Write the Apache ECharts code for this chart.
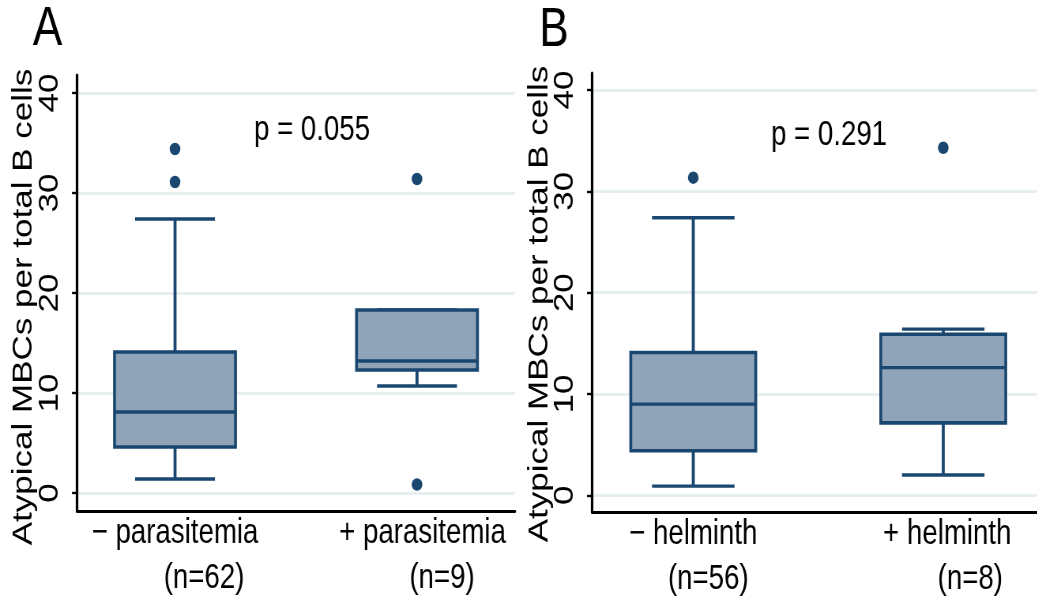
<!DOCTYPE html>
<html>
<head>
<meta charset="utf-8">
<script src="https://cdn.jsdelivr.net/npm/echarts@6/dist/echarts.min.js"></script>
<style>
html,body{margin:0;padding:0;background:#fff;overflow:hidden;}
#wrap{width:1037px;height:602px;overflow:hidden;position:relative;}
#chart{width:1313px;height:602px;transform:scaleX(0.79);transform-origin:0 0;position:absolute;left:0;top:0;}
</style>
</head>
<body>
<div id="wrap"><div id="chart"></div></div>
<script>
// ---- data ----
const yTicks = [0, 10, 20, 30, 40];
const yTitle = 'Atypical MBCs per total B cells';

const A_letter = 'A';
const A_categories = ['− parasitemia', '+ parasitemia'];
const A_counts = ['(n=62)', '(n=9)'];
// [lower whisker, Q1, median, Q3, upper whisker]
const A_boxes = [[1.4, 4.6, 8.1, 14.1, 27.4], [10.7, 12.3, 13.2, 18.3, 18.3]];
const A_outliers = [[34.4, 31.1], [31.4, 0.85]];
const A_p = 'p = 0.055';

const B_letter = 'B';
const B_categories = ['− helminth', '+ helminth'];
const B_counts = ['(n=56)', '(n=8)'];
const B_boxes = [[0.9, 4.4, 9.0, 14.1, 27.4], [2.0, 7.15, 12.6, 15.9, 16.4]];
const B_outliers = [[31.35], [34.3]];
const B_p = 'p = 0.291';

// ---- style / layout ----
const S = 0.79; // horizontal squish of the picture
const X = v => v / S;
const FONT = "'Liberation Sans', Arial, sans-serif";
const NAVY = '#1a476f';
const FILL = '#8fa4b8';
const GRID = '#e6eef0';

function boxData(boxes) { return boxes.map((b, i) => [i + 1].concat(b)); }
function outlierData(outs) {
  const r = [];
  outs.forEach((vals, i) => vals.forEach(v => r.push([i + 1, v])));
  return r;
}

function renderBox(params, api) {
  const x = api.value(0);
  const lo = api.coord([x, api.value(1)]);
  const q1 = api.coord([x, api.value(2)]);
  const md = api.coord([x, api.value(3)]);
  const q3 = api.coord([x, api.value(4)]);
  const hi = api.coord([x, api.value(5)]);
  const bw = api.size([0.5, 0])[0];
  const cw = api.size([0.33, 0])[0];
  const ls = { stroke: NAVY, lineWidth: 3.4, fill: null };
  const vs = { stroke: NAVY, lineWidth: 3.8, fill: null };
  return {
    type: 'group',
    children: [
      { type: 'line', shape: { x1: lo[0], y1: lo[1], x2: q1[0], y2: q1[1] }, style: vs },
      { type: 'line', shape: { x1: hi[0], y1: hi[1], x2: q3[0], y2: q3[1] }, style: vs },
      { type: 'line', shape: { x1: lo[0] - cw / 2, y1: lo[1], x2: lo[0] + cw / 2, y2: lo[1] }, style: ls },
      { type: 'line', shape: { x1: hi[0] - cw / 2, y1: hi[1], x2: hi[0] + cw / 2, y2: hi[1] }, style: ls },
      { type: 'rect', shape: { x: q3[0] - bw / 2, y: q3[1], width: bw, height: q1[1] - q3[1] },
        style: { fill: FILL, stroke: NAVY, lineWidth: 3.6 } },
      { type: 'line', shape: { x1: md[0] - bw / 2, y1: md[1], x2: md[0] + bw / 2, y2: md[1] }, style: ls }
    ]
  };
}

function xAxisFor(idx, cats, counts, shifts, min, max) {
  const rich = {};
  cats.forEach((c, i) => {
    rich['s' + i] = { fontFamily: FONT, fontSize: 35, color: '#000', lineHeight: 45, padding: [0, 0, 0, X(shifts[i][0])] };
    rich['n' + i] = { fontFamily: FONT, fontSize: 35, color: '#000', lineHeight: 45, padding: [0, 0, 0, X(shifts[i][1])] };
  });
  return {
    type: 'value', gridIndex: idx, min: min, max: max,
    axisLine: { show: true, onZero: false, lineStyle: { color: '#000', width: 2.8 } },
    axisTick: { show: false },
    splitLine: { show: false },
    axisLabel: {
      customValues: [1, 2],
      margin: 0,
      formatter: function (v) {
        const i = Math.round(v) - 1;
        return '{s' + i + '|' + cats[i] + '}\n{n' + i + '|' + counts[i] + '}';
      },
      rich: rich
    }
  };
}

function yAxisFor(idx, min, max) {
  return {
    type: 'value', gridIndex: idx, min: min, max: max,
    axisLine: { show: true, onZero: false, lineStyle: { color: '#000', width: 3.2 } },
    axisTick: { show: true, customValues: yTicks, length: X(5), lineStyle: { color: '#000', width: 2.4 } },
    splitLine: { show: true, lineStyle: { color: GRID, width: 2.8 } },
    axisLabel: { customValues: yTicks, rotate: 90, margin: X(13), fontFamily: FONT, fontSize: 35, color: '#000' }
  };
}

const option = {
  animation: false,
  backgroundColor: '#fff',
  grid: [
    { left: X(77), width: X(438), top: 75, height: 436 },
    { left: X(592), width: X(445), top: 73, height: 439 }
  ],
  xAxis: [
    xAxisFor(0, A_categories, A_counts, [[0, 58], [11, 50]], 0.595, 2.405),
    xAxisFor(1, B_categories, B_counts, [[0, 30], [8, 54]], 0.595, 2.375)
  ],
  yAxis: [
    yAxisFor(0, -1.8, 41.8),
    yAxisFor(1, -1.65, 41.68)
  ],
  series: [
    { type: 'custom', xAxisIndex: 0, yAxisIndex: 0, renderItem: renderBox, data: boxData(A_boxes), z: 3 },
    { type: 'scatter', xAxisIndex: 0, yAxisIndex: 0, data: outlierData(A_outliers), symbol: 'circle',
      symbolSize: [13.5, 12.5], itemStyle: { color: NAVY, opacity: 1 }, z: 4 },
    { type: 'custom', xAxisIndex: 1, yAxisIndex: 1, renderItem: renderBox, data: boxData(B_boxes), z: 3 },
    { type: 'scatter', xAxisIndex: 1, yAxisIndex: 1, data: outlierData(B_outliers), symbol: 'circle',
      symbolSize: [13.5, 12.5], itemStyle: { color: NAVY, opacity: 1 }, z: 4 }
  ],
  graphic: [
    { type: 'text', x: X(47.5), y: 30, style: { text: A_letter, font: '56px ' + FONT, fill: '#000', align: 'center', verticalAlign: 'middle' } },
    { type: 'text', x: X(554), y: 31, style: { text: B_letter, font: '56px ' + FONT, fill: '#000', align: 'center', verticalAlign: 'middle' } },
    { type: 'text', x: X(312), y: 130, style: { text: A_p, font: '35px ' + FONT, fill: '#000', align: 'center', verticalAlign: 'middle' } },
    { type: 'text', x: X(829), y: 135, style: { text: B_p, font: '35px ' + FONT, fill: '#000', align: 'center', verticalAlign: 'middle' } },
    { type: 'text', x: X(24), y: 307, rotation: Math.PI / 2, style: { text: yTitle, font: '35px ' + FONT, fill: '#000', align: 'center', verticalAlign: 'middle' } },
    { type: 'text', x: X(540), y: 304, rotation: Math.PI / 2, style: { text: yTitle, font: '35px ' + FONT, fill: '#000', align: 'center', verticalAlign: 'middle' } }
  ]
};

const chart = echarts.init(document.getElementById('chart'), null, { renderer: 'canvas' });
chart.setOption(option);
</script>
</body>
</html>
